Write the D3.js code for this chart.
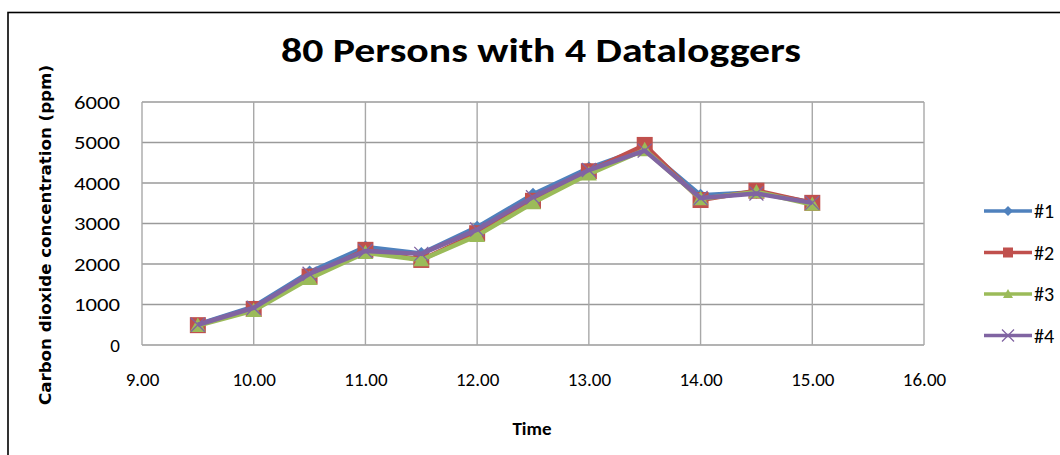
<!DOCTYPE html>
<html><head><meta charset="utf-8">
<script src="https://cdn.jsdelivr.net/npm/d3@7"></script>
<style>body{margin:0;background:#fff}svg{display:block}</style>
</head><body>
<svg id="c" width="1060" height="455"></svg>
<script>
const times = [9.5, 10, 10.5, 11, 11.5, 12, 12.5, 13, 13.5, 14, 14.5, 15];
const seriesNames = ["#1", "#2", "#3", "#4"];
const s1 = [510, 950, 1800, 2420, 2260, 2910, 3720, 4370, 4860, 3700, 3770, 3520];
const s2 = [490, 890, 1690, 2350, 2100, 2760, 3560, 4290, 4940, 3580, 3810, 3510];
const s3 = [480, 850, 1640, 2280, 2100, 2700, 3510, 4220, 4820, 3610, 3780, 3470];
const s4 = [500, 920, 1760, 2320, 2250, 2850, 3650, 4320, 4800, 3630, 3740, 3510];
const xTicks = [9, 10, 11, 12, 13, 14, 15, 16];
const yTicks = [0, 1000, 2000, 3000, 4000, 5000, 6000];
const colors = ["#4F81BD", "#C0504D", "#9BBB59", "#8064A2"];
const shapes = ["diamond", "square", "triangle", "x"];
const title = "80 Persons with 4 Dataloggers";
const xTitle = "Time";
const yTitle = "Carbon dioxide concentration (ppm)";

const F = "Carlito,Calibri,'Open Sans',sans-serif";
const svg = d3.select("#c");
const x = d3.scaleLinear().domain([9, 16]).range([142, 924]);
const y = d3.scaleLinear().domain([0, 6000]).range([345, 102]);

// outer chart border
svg.append("rect").attr("x", 8).attr("y", 12.5).attr("width", 1100).attr("height", 500)
  .attr("fill", "none").attr("stroke", "#000").attr("stroke-width", 1.6);

// gridlines
const grid = svg.append("g");
grid.selectAll("line.h").data(yTicks).join("line")
  .attr("x1", x(9)).attr("x2", x(16)).attr("y1", d => y(d)).attr("y2", d => y(d))
  .attr("stroke", "#9a9a9a").attr("stroke-width", 1.4);
grid.selectAll("line.v").data(xTicks).join("line")
  .attr("x1", d => x(d)).attr("x2", d => x(d)).attr("y1", y(0)).attr("y2", y(6000))
  .attr("stroke", "#a8a8a8").attr("stroke-width", 1.4);

// axes labels
const yAxis = svg.append("g").attr("transform", `translate(${x(9)},0)`)
  .call(d3.axisLeft(y).tickValues(yTicks).tickSize(0).tickPadding(22).tickFormat(d3.format("d")));
yAxis.select(".domain").remove();
yAxis.selectAll("text").attr("font-family", F).attr("font-size", 19).attr("fill", "#000")
  .attr("textLength", 46).attr("lengthAdjust", "spacingAndGlyphs");
yAxis.selectAll("text").filter(d => d === 0).attr("textLength", null);

const xAxis = svg.append("g").attr("transform", `translate(0,${y(0)})`)
  .call(d3.axisBottom(x).tickValues(xTicks).tickSize(0).tickPadding(28).tickFormat(d3.format(".2f")));
xAxis.select(".domain").remove();
xAxis.selectAll("text").attr("font-family", F).attr("font-size", 19).attr("fill", "#000");

// titles
svg.append("text").attr("x", 541).attr("y", 62).attr("text-anchor", "middle")
  .attr("font-family", F).attr("font-weight", "bold").attr("font-size", 35)
  .attr("textLength", 520).attr("lengthAdjust", "spacingAndGlyphs").text(title);
svg.append("text").attr("x", 532).attr("y", 435).attr("text-anchor", "middle")
  .attr("font-family", F).attr("font-weight", "bold").attr("font-size", 19).text(xTitle);
svg.append("text").attr("transform", "translate(51,235) rotate(-90)").attr("text-anchor", "middle")
  .attr("font-family", "'DejaVu Sans',sans-serif").attr("font-weight", "bold").attr("font-size", 15)
  .attr("textLength", 340).attr("lengthAdjust", "spacingAndGlyphs").text(yTitle);

function marker(g, shape, color, size) {
  const s = size / 2;
  if (shape === "diamond") g.append("path").attr("d", `M0,${-s}L${s},0L0,${s}L${-s},0Z`).attr("fill", color);
  else if (shape === "square") g.append("rect").attr("x", -s).attr("y", -s).attr("width", size).attr("height", size).attr("fill", color);
  else if (shape === "triangle") g.append("path").attr("d", `M0,${-s}L${s},${s * 0.8}L${-s},${s * 0.8}Z`).attr("fill", color);
  else {
    g.append("path").attr("d", `M${-s},${-s}L${s},${s}M${-s},${s}L${s},${-s}`)
      .attr("stroke", color).attr("stroke-width", 1.3).attr("fill", "none");
  }
}

const data = [s1, s2, s3, s4];
const line = d3.line().x(d => x(d[0])).y(d => y(d[1]));
const msize = [13, 16, 16, 14];
data.forEach((vals, i) => {
  const pts = times.map((t, j) => [t, vals[j]]);
  const g = svg.append("g");
  g.append("path").datum(pts).attr("d", line).attr("fill", "none")
    .attr("stroke", colors[i]).attr("stroke-width", 4.5).attr("stroke-linejoin", "round");
  pts.forEach(p => {
    const m = g.append("g").attr("transform", `translate(${x(p[0])},${y(p[1])})`);
    marker(m, shapes[i], colors[i], msize[i]);
  });
});

// legend
const legY = [211, 252.5, 294, 335.5];
seriesNames.forEach((n, i) => {
  const g = svg.append("g").attr("transform", `translate(0,${legY[i]})`);
  g.append("line").attr("x1", 984).attr("x2", 1032).attr("y1", 0).attr("y2", 0)
    .attr("stroke", colors[i]).attr("stroke-width", 3.5);
  const m = g.append("g").attr("transform", "translate(1008,0)");
  marker(m, shapes[i], colors[i], i === 3 ? 12 : 10);
  g.append("text").attr("x", 1034).attr("y", 7).attr("font-family", F).attr("font-size", 20).text(n);
});
</script>
</body></html>
